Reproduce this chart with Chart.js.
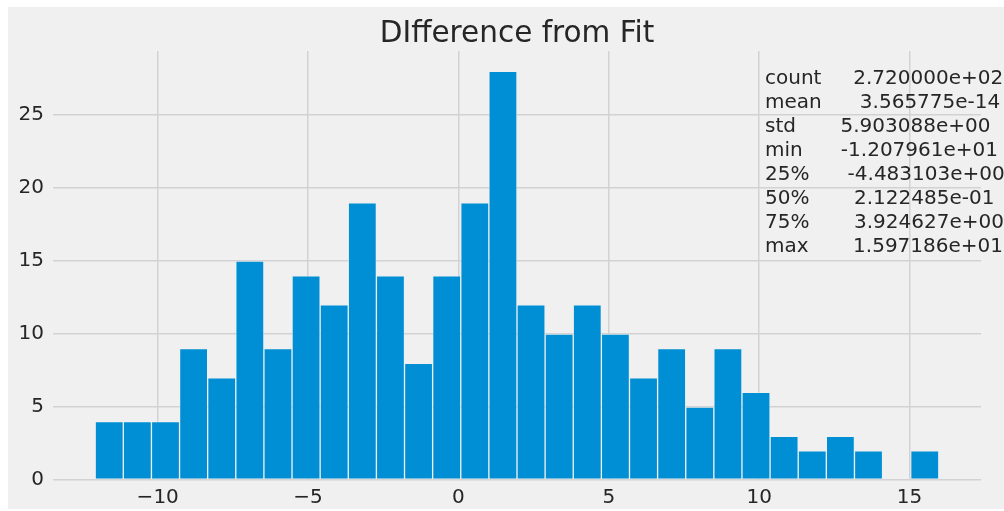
<!DOCTYPE html>
<html>
<head>
<meta charset="utf-8">
<title>DIfference from Fit</title>
<script src="https://cdn.jsdelivr.net/npm/chart.js@4.4.1/dist/chart.umd.min.js"></script>
<style>
  html, body { margin: 0; padding: 0; background: #ffffff; }
  #wrap { position: absolute; left: 0; top: 0; width: 1004px; height: 511px; }
</style>
</head>
<body>
<div id="wrap"><canvas id="c" width="1004" height="511"></canvas></div>
<script>
// Histogram of residuals: 30 equal bins between the sample min and max
const binStart = -12.07961;
const binEnd = 15.97186;
const binCount = 30;
const counts = [4, 4, 4, 9, 7, 15, 9, 14, 12, 19, 14, 8, 14, 19, 28, 12, 10, 12, 10, 7, 9, 5, 9, 6, 3, 2, 3, 2, 0, 2];

const xTicks = [-10, -5, 0, 5, 10, 15];
const yTicks = [0, 5, 10, 15, 20, 25];

// Summary table printed in the corner
const statNames = ['count', 'mean', 'std', 'min', '25%', '50%', '75%', 'max'];
const statValues = ['2.720000e+02', '3.565775e-14', '5.903088e+00', '-1.207961e+01',
                    '-4.483103e+00', '2.122485e-01', '3.924627e+00', '1.597186e+01'];

const titleText = 'DIfference from Fit';

const binWidth = (binEnd - binStart) / binCount;
const bars = counts
  .map((n, i) => ({ x: binStart + (i + 0.5) * binWidth, y: n }))
  .filter(p => p.y > 0);
const xPad = (binEnd - binStart) * 0.05;
const yMax = Math.max(...counts) * 1.05;

const FONT = '"DejaVu Sans", "Liberation Sans", sans-serif';
const GRID = '#d2d2d2';
const TEXT = '#262626';

const nameWidth = Math.max(...statNames.map(s => s.length));
const valueWidth = Math.max(...statValues.map(s => s.length));
const statLines = statNames.map((n, i) => n.padEnd(nameWidth) + '    ' + statValues[i].padStart(valueWidth));

const backdrop = {
  id: 'backdrop',
  beforeDraw(chart) {
    const ctx = chart.ctx;
    ctx.save();
    ctx.fillStyle = '#ffffff';
    ctx.fillRect(0, 0, chart.width, chart.height);
    ctx.fillStyle = '#f0f0f0';
    ctx.fillRect(8, 7, chart.width - 8, 502);
    ctx.restore();
  }
};

const annotations = {
  id: 'annotations',
  afterDraw(chart) {
    const ctx = chart.ctx;
    const area = chart.chartArea;
    ctx.save();
    ctx.fillStyle = TEXT;
    ctx.textBaseline = 'alphabetic';
    ctx.textAlign = 'center';
    ctx.font = '29.5px ' + FONT;
    ctx.fillText(titleText, (area.left + area.right) / 2, 42);

    ctx.textAlign = 'left';
    ctx.font = '20px ' + FONT;
    statLines.forEach((line, i) => {
      ctx.fillText(line, 765, 84 + i * 24);
    });
    ctx.restore();
  }
};

new Chart(document.getElementById('c'), {
  type: 'bar',
  data: {
    datasets: [{
      data: bars,
      backgroundColor: '#008fd5',
      borderColor: 'rgba(240,240,240,0.45)',
      borderWidth: 1,
      borderSkipped: false,
      barPercentage: 1,
      categoryPercentage: 1,
      grouped: false
    }]
  },
  options: {
    responsive: false,
    animation: false,
    devicePixelRatio: 1,
    layout: { padding: { left: 0, right: 23, top: 51, bottom: 0 } },
    plugins: {
      legend: { display: false },
      title: { display: false },
      tooltip: { enabled: false }
    },
    scales: {
      x: {
        type: 'linear',
        offset: false,
        min: binStart - xPad,
        max: binEnd + xPad,
        afterBuildTicks(scale) { scale.ticks = xTicks.map(v => ({ value: v })); },
        afterFit(scale) { scale.height = 31; },
        border: { display: false },
        grid: { color: GRID, lineWidth: 1.5, drawTicks: false, offset: false },
        ticks: {
          color: TEXT,
          font: { family: FONT, size: 20 },
          padding: 6,
          maxRotation: 0,
          autoSkip: false,
          callback: v => String(v).replace('-', '\u2212')
        }
      },
      y: {
        min: 0,
        max: yMax,
        afterBuildTicks(scale) { scale.ticks = yTicks.map(v => ({ value: v })); },
        afterFit(scale) { scale.width = 53; },
        border: { display: false },
        grid: { color: GRID, lineWidth: 1.5, drawTicks: false },
        ticks: {
          color: TEXT,
          font: { family: FONT, size: 20 },
          padding: 9,
          autoSkip: false,
          callback: v => String(v)
        }
      }
    }
  },
  plugins: [backdrop, annotations]
});
</script>
</body>
</html>
